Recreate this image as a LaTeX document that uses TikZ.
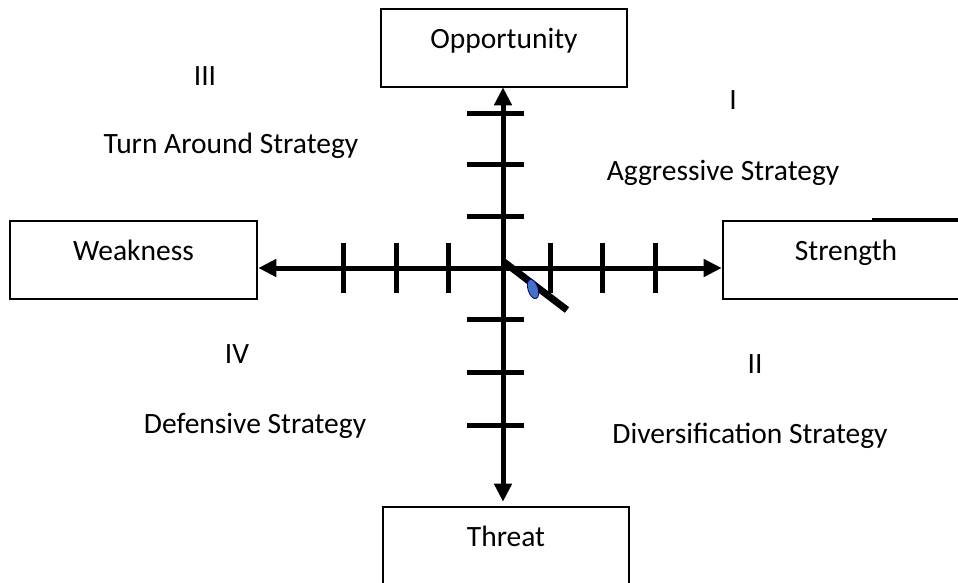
\documentclass[tikz,border=0pt]{standalone}
\usepackage{fontspec}
\setmainfont{Carlito}
\usetikzlibrary{arrows.meta,shapes.geometric}
\begin{document}
\begin{tikzpicture}[x=1pt,y=-1pt,
  box/.style={draw=black,line width=2.6pt,fill=white,minimum width=246pt,minimum height=78pt,
    inner sep=0pt,text height=19pt,text depth=19pt,font=\fontsize{29.5}{32}\selectfont},
  lbl/.style={anchor=base,inner sep=0pt,font=\fontsize{29.5}{32}\selectfont},
  axis/.style={line width=5pt,-{Triangle[length=18pt,width=17pt]}},
  tick/.style={line width=5pt}]
\useasboundingbox (0,0) rectangle (958,582);
\clip (0,0) rectangle (958,582);
\fill[white] (0,0) rectangle (958,582);
\coordinate (c) at (503,268);
% boxes
\node[box] (opp) at (504,48) {Opportunity};
\node[box,minimum width=247pt] (weak) at (133.5,260) {Weakness};
\node[box] (str) at (846,260) {Strength};
\node[box] (thr) at (506,546) {Threat};
\coordinate (s1) at (872,219);
\coordinate (s2) at (958,219);
\draw[line width=1.6pt] (s1) -- (s2);
% axes
\draw[axis] (c) -- (weak.east |- c);
\draw[axis] (c) -- (str.west |- c);
\draw[axis,shorten >=-1pt] (c) -- (opp.south -| c);
\draw[axis,shorten >=4pt] (c) -- (thr.north -| c);
% ticks
\foreach \x in {343,396,448,550,602,655} \draw[tick] (\x,243) -- (\x,293);
\foreach \y in {113,164,216,319,372,425} \draw[tick] (467,\y) -- (524,\y);
% diagonal
\coordinate (d1) at (504,262);
\coordinate (d2) at (567,310);
\draw[line width=7pt] (d1) -- (d2);
\node[ellipse,draw=blue!50!black,fill={rgb,255:red,68;green,114;blue,196},line width=0.8pt,
  minimum width=10pt,minimum height=20pt,inner sep=0pt,rotate=18] (dot) at (533,289) {};
% quadrant labels
\node[lbl] (q3) at (205,85) {III};
\node[lbl] (t3) at (231,153) {Turn Around Strategy};
\node[lbl] (q1) at (733,109) {I};
\node[lbl] (t1) at (723,180) {Aggressive Strategy};
\node[lbl] (q4) at (237,363) {IV};
\node[lbl] (t4) at (255,433) {Defensive Strategy};
\node[lbl] (q2) at (755,373) {II};
\node[lbl] (t2) at (750,443) {Diversification Strategy};
\end{tikzpicture}
\end{document}
